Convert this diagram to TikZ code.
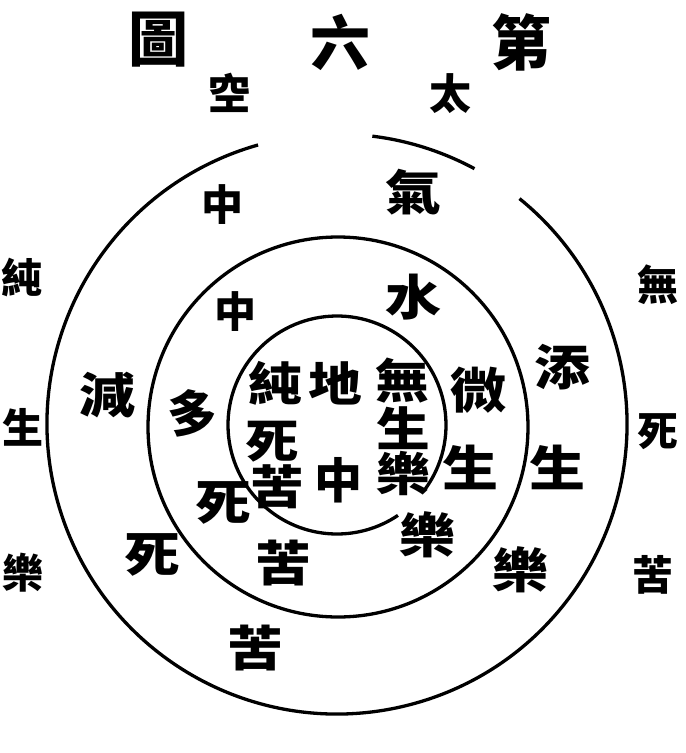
\documentclass[tikz,border=0pt]{standalone}
\usepackage{graphicx}
\usepackage{fontspec}
\newfontfamily\cjk{Noto Sans CJK TC}
\newcommand{\widech}[1]{\scalebox{1.12}[0.97]{#1}}
\begin{document}
\begin{tikzpicture}[x=1pt,y=-1pt,
  ring/.style={line width=3.3pt,black},
  ch/.style={inner sep=0pt,font=\cjk\bfseries\fontsize{50}{50}\selectfont},
  titlech/.style={ch,font=\cjk\bfseries\fontsize{60}{60}\selectfont},
  topch/.style={ch,font=\cjk\bfseries\fontsize{42}{42}\selectfont},
  innerch/.style={ch,font=\cjk\bfseries\fontsize{48}{48}\selectfont},
  smallch/.style={ch,font=\cjk\bfseries\fontsize{42}{42}\selectfont},
  sidech/.style={ch,font=\cjk\bfseries\fontsize{41}{41}\selectfont}]
\fill[white] (0,0) rectangle (686,753);
\useasboundingbox (0,0) rectangle (686,753);
% circles
\coordinate (oc) at (337,424);
\coordinate (mc) at (338,427);
\coordinate (ic) at (337,425);
\draw[ring] (oc) ++(-105.8:290) arc[start angle=-105.8, end angle=-411, radius=290];
\draw[ring] (oc) ++(-61.7:290) arc[start angle=-61.7, end angle=-83, radius=290];
\draw[ring] (mc) circle[radius=190];
\draw[ring] (ic) ++(36:109) arc[start angle=36, end angle=-304, radius=109];
% title
\node[titlech] (t1) at (158,40) {圖};
\node[titlech] (t2) at (340,42) {六};
\node[titlech] (t3) at (521,42) {第};
\node[topch] (k1) at (229,93) {空};
\node[topch] (k2) at (450,94) {太};
% outer ring
\node[smallch] (o1) at (222,205) {中};
\node[ch] (o2) at (413,192) {\widech{氣}};
\node[ch] (o3) at (107,395) {\widech{減}};
\node[ch] (o4) at (562,367) {\widech{添}};
\node[ch] (o5) at (152,555) {\widech{死}};
\node[ch] (o6) at (557,467) {\widech{生}};
\node[ch] (o7) at (255,648) {\widech{苦}};
\node[ch] (o8) at (520,570) {\widech{樂}};
% middle ring
\node[smallch] (m1) at (235,312) {中};
\node[ch] (m2) at (413,297) {\widech{水}};
\node[ch] (m3) at (192,413) {多};
\node[ch] (m4) at (478,390) {\widech{微}};
\node[ch] (m5) at (223,503) {\widech{死}};
\node[ch] (m6) at (470,467) {\widech{生}};
\node[ch] (m7) at (283,563) {\widech{苦}};
\node[ch] (m8) at (427,535) {\widech{樂}};
% inner circle
\node[innerch] (i1) at (275,383) {\widech{純}};
\node[innerch] (i2) at (335,383) {\widech{地}};
\node[innerch] (i3) at (402,381) {\widech{無}};
\node[innerch] (i4) at (272,442) {\widech{死}};
\node[innerch] (i5) at (403,428) {\widech{生}};
\node[innerch] (i6) at (277,487) {\widech{苦}};
\node[innerch] (i7) at (338,480) {中};
\node[innerch] (i8) at (403,473) {\widech{樂}};
% outside columns
\node[sidech] (l1) at (22,278) {純};
\node[sidech] (l2) at (23,427) {生};
\node[sidech] (l3) at (23,573) {樂};
\node[sidech] (r1) at (658,285) {無};
\node[sidech] (r2) at (658,432) {死};
\node[sidech] (r3) at (653,575) {苦};
\end{tikzpicture}
\end{document}
